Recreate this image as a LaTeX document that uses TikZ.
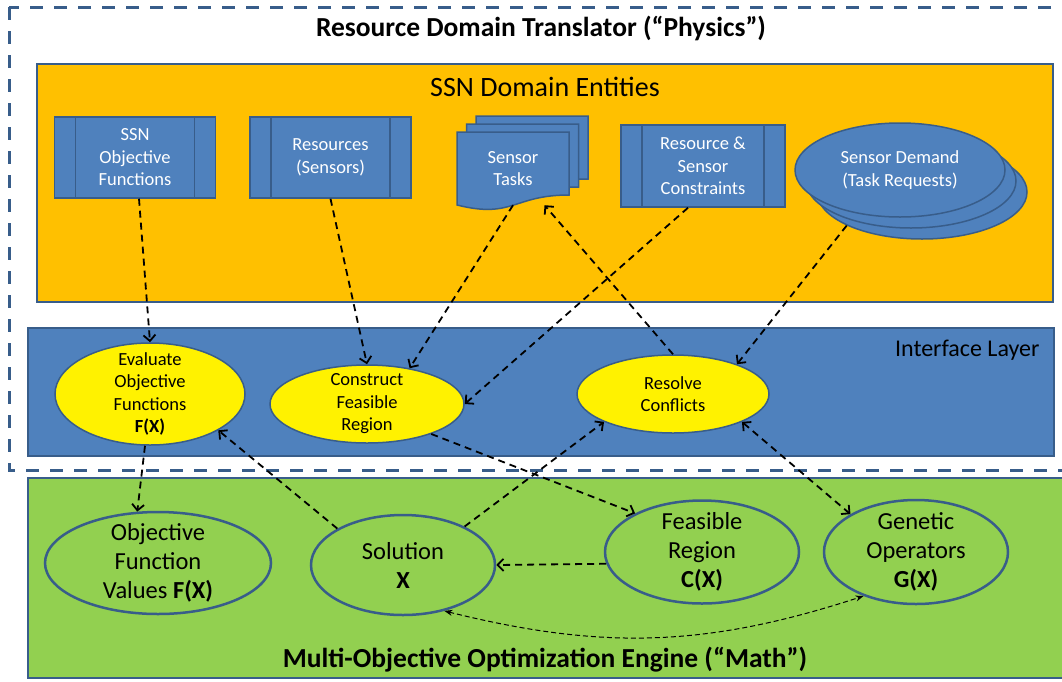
\documentclass[tikz,border=0pt]{standalone}
\usepackage{fontspec}
\setmainfont{Carlito}
\usetikzlibrary{arrows.meta,shapes.geometric}
\definecolor{officeblue}{HTML}{4F81BD}
\definecolor{officeline}{HTML}{385D8A}
\definecolor{officeorange}{HTML}{FFC000}
\definecolor{officegreen}{HTML}{92D050}

\newcommand{\smallfnt}{\fontsize{18.5}{22.5}\selectfont}
\newcommand{\bigfnt}{\fontsize{24.5}{29}\selectfont}
\newcommand{\headfnt}{\fontsize{27.5}{32}\selectfont}

\begin{document}
\begin{tikzpicture}[x=1pt, y=-1pt, >={Straight Barb[length=6pt,width=12pt]},
  proc/.style={draw=officeline, line width=1.5pt, fill=officeblue, text=white, align=center, font=\smallfnt, inner sep=0pt,
    path picture={\draw[officeline, line width=1.5pt]
      ([xshift=21pt]path picture bounding box.north west) -- ([xshift=21pt]path picture bounding box.south west)
      ([xshift=-21pt]path picture bounding box.north east) -- ([xshift=-21pt]path picture bounding box.south east);}},
  docbox/.style={draw=officeline, line width=1.5pt, fill=officeblue},
  demandell/.style={ellipse, draw=officeline, line width=1.5pt, fill=officeblue, text=white, align=center, font=\smallfnt, minimum width=210pt, minimum height=94pt, inner sep=0pt},
  action/.style={ellipse, draw=officeline, line width=1.5pt, fill=yellow, align=center, font=\smallfnt, inner sep=0pt, inner ysep=-12pt},
  mathnode/.style={ellipse, draw=officeline, line width=2.5pt, fill=officegreen, align=center, font=\bigfnt, inner sep=0pt, inner ysep=-12pt},
  link/.style={line width=1.8pt, dash pattern=on 7pt off 5pt},
  thinlink/.style={line width=1pt, dash pattern=on 5pt off 3pt, {Stealth[length=8pt,width=6pt]}-{Stealth[length=8pt,width=6pt]}}]
	\useasboundingbox (0,0) rectangle (1062,681);

	% physics side
	\draw[officeline, line width=3pt, dash pattern=on 13pt off 11pt] (9,7) rectangle (1075,470);
	\node[font=\headfnt\bfseries] (physics) at (541,28) {Resource Domain Translator (“Physics”)};
	\draw[draw=officeline, line width=1.5pt, fill=officeorange] (37,64) rectangle (1053,302);
	\node[font=\fontsize{28}{32}\selectfont] (entities) at (545,87) {SSN Domain Entities};

	\node[proc, minimum width=161pt, minimum height=81pt] (objfun) at (135,157.5) {SSN\\Objective\\Functions};
	\node[proc, minimum width=161pt, minimum height=81pt] (sensors) at (330.5,157.5) {Resources\\(Sensors)};
	\node[proc, minimum width=164pt, minimum height=82pt] (constraints) at (703,166) {Resource \&\\Sensor\\Constraints};

	\foreach \d in {2,1,0}
	  \draw[docbox] ({457+9.5*\d},{132-8*\d}) -- ({569+9.5*\d},{132-8*\d}) -- ({569+9.5*\d},{195-8*\d})
	    .. controls ({513+9.5*\d},{195-8*\d}) and ({513+9.5*\d},{219-8*\d}) .. ({457+9.5*\d},{205-8*\d}) -- cycle;
	\node[text=white, align=center, font=\smallfnt, minimum width=112pt, minimum height=73pt, inner sep=0pt] (tasks) at (513,168.5) {Sensor\\Tasks};

	\node[demandell] (demand3) at (922,192) {};
	\node[demandell] (demand2) at (911,181) {};
	\node[demandell] (demand) at (900,170) {Sensor Demand\\(Task Requests)};

	% interface layer
	\draw[draw=officeline, line width=2pt, fill=officeblue] (28,328) rectangle (1054,456);
	\node[anchor=east, font=\fontsize{24}{28}\selectfont] (iface) at (1043,350) {Interface Layer};
	\node[action, minimum width=190pt, minimum height=102pt] (evaluate) at (150,394) {Evaluate\\Objective\\Functions\\\textbf{F(X)}};
	\node[action, minimum width=194pt, minimum height=78pt] (construct) at (367,404) {Construct\\Feasible\\Region};
	\node[action, minimum width=192pt, minimum height=78pt] (resolve) at (673,394) {Resolve\\Conflicts};

	% math side
	\draw[draw=officeline, line width=2pt, fill=officegreen] (28,478) rectangle (1075,678);
	\node[font=\headfnt\bfseries] (engine) at (545,660) {Multi-Objective Optimization Engine (“Math”)};
	\node[mathnode, minimum width=226pt, minimum height=102pt] (values) at (158,563) {Objective\\Function\\Values \textbf{F(X)}};
	\node[mathnode, minimum width=184pt, minimum height=100pt] (solution) at (403,565) {Solution\\\textbf{X}};
	\node[mathnode, minimum width=194pt, minimum height=103pt] (feasible) at (702,552) {Feasible\\Region\\\textbf{C(X)}};
	\node[mathnode, minimum width=184pt, minimum height=104pt] (genetic) at (916,552) {Genetic\\Operators\\\textbf{G(X)}};

	\draw[link, ->] ([xshift=4pt]objfun.south) -- (evaluate.north);
	\draw[link, ->] (sensors.south) -- (construct.north);
	\draw[link, ->] (tasks.south) -- (construct.40);
	\draw[link, ->] ([xshift=-15pt]constraints.south) -- (construct.east);
	\draw[link, ->] (resolve.north) -- (tasks);
	\draw[link, ->] (demand3.204) -- (resolve.25);
	\draw[link, ->] ([xshift=-5pt]evaluate.south) -- (values.112);
	\draw[link, ->] (solution.151) -- (evaluate.-28);
	\draw[link, ->] (solution.32) -- (resolve.202);
	\draw[link, ->] (construct.-25) -- (feasible.150);
	\draw[link, ->] (feasible.187) -- (solution.east);
	\draw[link, <->] (resolve.-22) -- (genetic.150);
	\draw[thinlink] (solution.-48) to[bend right=16] (genetic.220);
\end{tikzpicture}
\end{document}
